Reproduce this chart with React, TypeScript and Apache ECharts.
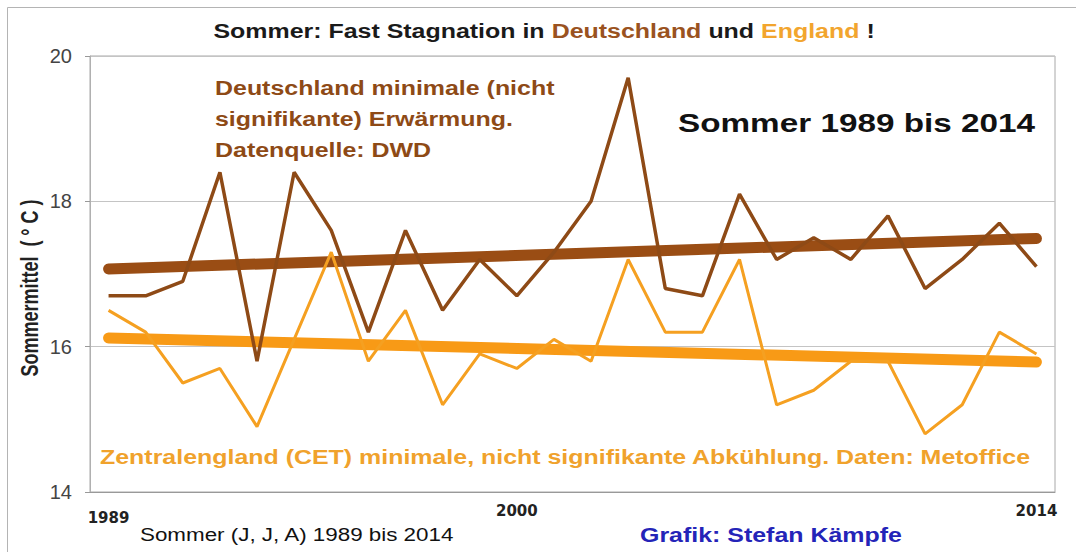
import React, { useEffect, useRef } from "react";
import * as echarts from "echarts";

const years = [
  "1989", "1990", "1991", "1992", "1993", "1994", "1995", "1996", "1997",
  "1998", "1999", "2000", "2001", "2002", "2003", "2004", "2005", "2006",
  "2007", "2008", "2009", "2010", "2011", "2012", "2013", "2014",
];
const germany = [
  16.7, 16.7, 16.9, 18.4, 15.8, 18.4, 17.6, 16.2, 17.6, 16.5, 17.2, 16.7, 17.3,
  18.0, 19.7, 16.8, 16.7, 18.1, 17.2, 17.5, 17.2, 17.8, 16.8, 17.2, 17.7, 17.1,
];
const england = [
  16.5, 16.2, 15.5, 15.7, 14.9, 16.1, 17.3, 15.8, 16.5, 15.2, 15.9, 15.7, 16.1,
  15.8, 17.2, 16.2, 16.2, 17.2, 15.2, 15.4, 15.8, 15.8, 14.8, 15.2, 16.2, 15.9,
];
const germanyTrendEnds = [17.07, 17.49];
const englandTrendEnds = [16.12, 15.79];
const shownYears = ["1989", "2000", "2014"];
const yTicks = { min: 14, max: 20, interval: 2 };

const BROWN = "#8e4a16";
const BROWN_TREND = "#9a4d14";
const ORANGE = "#f5a021";
const ORANGE_TREND = "#f89a16";
const FONT = '"Liberation Sans", Arial, sans-serif';
const SX = 1.28;

export default function App() {
  const ref = useRef<HTMLDivElement>(null);
  useEffect(() => {
    if (!ref.current) return;
    const chart = echarts.init(ref.current, null, { renderer: "svg" });
    const first = years[0];
    const last = years[years.length - 1];
    chart.setOption({
      animation: false,
      backgroundColor: "#ffffff",
      grid: {
        left: 90,
        right: 21,
        top: 56,
        bottom: 60,
        show: true,
        borderColor: "#a8a8a8",
        borderWidth: 1,
      },
      xAxis: {
        type: "category",
        data: years,
        boundaryGap: true,
        axisLine: { show: true, lineStyle: { color: "#999", width: 1 } },
        axisTick: { show: false },
        splitLine: { show: false },
        axisLabel: {
          interval: (i: number, v: string) => shownYears.includes(v),
          margin: 11,
          fontFamily: '"DejaVu Sans", sans-serif',
          fontWeight: "bold",
          fontSize: 15,
          color: "#222",
          formatter: (v: string) => (v === "1989" ? "{low|" + v + "}" : v),
          rich: {
            low: {
              fontFamily: '"DejaVu Sans", sans-serif',
              fontWeight: "bold",
              fontSize: 15,
              color: "#222",
              padding: [7, 0, 0, 0],
            },
          },
        },
      },
      yAxis: {
        type: "value",
        min: yTicks.min,
        max: yTicks.max,
        interval: yTicks.interval,
        axisLine: { show: true, lineStyle: { color: "#b0b0b0" } },
        axisTick: { show: true, length: 5, lineStyle: { color: "#999" } },
        splitLine: { show: true, lineStyle: { color: "#c4c4c4", width: 1 } },
        axisLabel: {
          margin: 18,
          fontFamily: FONT,
          fontSize: 20,
          color: "#444",
        },
      },
      series: [
        {
          name: "Trend Deutschland",
          type: "line",
          data: [
            [first, germanyTrendEnds[0]],
            [last, germanyTrendEnds[1]],
          ],
          symbol: "none",
          lineStyle: { color: BROWN_TREND, width: 11, cap: "round" },
          z: 2,
        },
        {
          name: "Trend England",
          type: "line",
          data: [
            [first, englandTrendEnds[0]],
            [last, englandTrendEnds[1]],
          ],
          symbol: "none",
          lineStyle: { color: ORANGE_TREND, width: 11, cap: "round" },
          z: 2,
        },
        {
          name: "England",
          type: "line",
          data: england,
          symbol: "none",
          lineStyle: { color: ORANGE, width: 3 },
          z: 3,
        },
        {
          name: "Deutschland",
          type: "line",
          data: germany,
          symbol: "none",
          lineStyle: { color: BROWN, width: 3.5 },
          z: 4,
        },
      ],
      graphic: [
        {
          type: "rect",
          shape: { x: 7.5, y: 7.5, width: 1200, height: 700 },
          style: { fill: "none", stroke: "#b4b4b4", lineWidth: 1 },
          silent: true,
          z: 0,
        },
        {
          type: "text",
          x: 544,
          y: 31,
          scaleX: SX,
          z: 10,
          style: {
            text:
              "{a|Sommer: Fast Stagnation in }{b|Deutschland}{a| und }{c|England}{a| !}",
            align: "center",
            verticalAlign: "middle",
            rich: {
              a: { fontFamily: FONT, fontWeight: "bold", fontSize: 19.5, fill: "#1a1a1a", color: "#1a1a1a" },
              b: { fontFamily: FONT, fontWeight: "bold", fontSize: 19.5, fill: "#9a5220", color: "#9a5220" },
              c: { fontFamily: FONT, fontWeight: "bold", fontSize: 19.5, fill: "#f2a52e", color: "#f2a52e" },
            },
          },
        },
        ...[
          ["Deutschland minimale (nicht", 88],
          ["signifikante) Erwärmung.", 119],
          ["Datenquelle: DWD", 150],
        ].map(([t, y]) => ({
          type: "text",
          x: 215,
          y: y as number,
          scaleX: SX,
          z: 10,
          style: {
            text: t as string,
            align: "left",
            verticalAlign: "middle",
            fontFamily: FONT,
            fontWeight: "bold",
            fontSize: 19.5,
            fill: BROWN,
          },
        })),
        {
          type: "text",
          x: 678,
          y: 123,
          scaleX: SX,
          z: 10,
          style: {
            text: "Sommer 1989 bis 2014",
            align: "left",
            verticalAlign: "middle",
            fontFamily: FONT,
            fontWeight: "bold",
            fontSize: 26,
            fill: "#111",
          },
        },
        {
          type: "text",
          x: 100,
          y: 457,
          scaleX: SX,
          z: 10,
          style: {
            text:
              "Zentralengland (CET) minimale, nicht signifikante Abkühlung. Daten: Metoffice",
            align: "left",
            verticalAlign: "middle",
            fontFamily: FONT,
            fontWeight: "bold",
            fontSize: 19.5,
            fill: "#f0a22c",
          },
        },
        {
          type: "text",
          x: 30,
          y: 288,
          rotation: Math.PI / 2,
          scaleY: SX,
          z: 10,
          style: {
            text: "Sommermittel  ( ° C )",
            align: "center",
            verticalAlign: "middle",
            fontFamily: FONT,
            fontWeight: "bold",
            fontSize: 18,
            fill: "#222",
          },
        },
        {
          type: "text",
          x: 140,
          y: 535,
          scaleX: SX,
          z: 10,
          style: {
            text: "Sommer (J, J, A) 1989 bis 2014",
            align: "left",
            verticalAlign: "middle",
            fontFamily: FONT,
            fontSize: 17.5,
            fill: "#111",
          },
        },
        {
          type: "text",
          x: 640,
          y: 535,
          scaleX: SX,
          z: 10,
          style: {
            text: "Grafik: Stefan Kämpfe",
            align: "left",
            verticalAlign: "middle",
            fontFamily: FONT,
            fontWeight: "bold",
            fontSize: 19.5,
            fill: "#2424b8",
          },
        },
      ],
    });
    return () => chart.dispose();
  }, []);
  return (
    <div
      ref={ref}
      style={{ position: "fixed", left: 0, top: 0, width: 1076, height: 552 }}
    />
  );
}
